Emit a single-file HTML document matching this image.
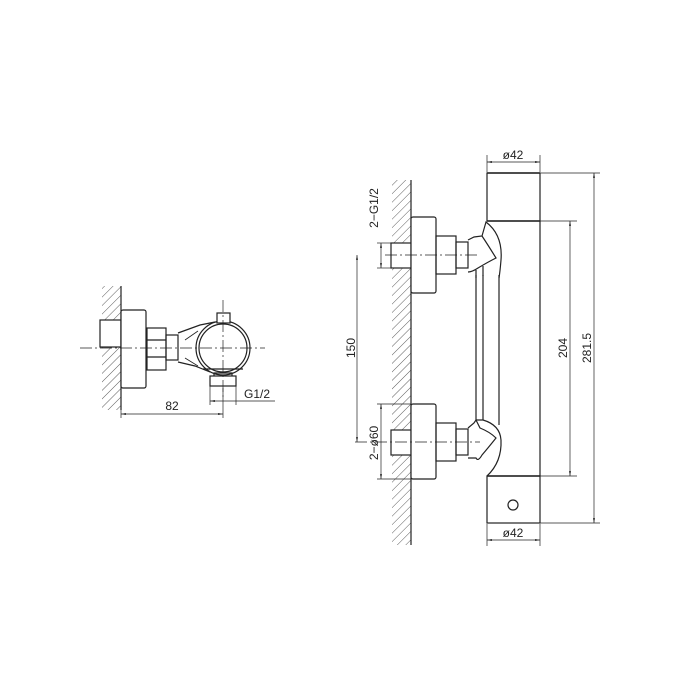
<!DOCTYPE html>
<html><head><style>html,body{margin:0;padding:0;background:#fff}svg{display:block}</style></head>
<body>
<svg width="700" height="700" viewBox="0 0 700 700" xmlns="http://www.w3.org/2000/svg" font-family="Liberation Sans, sans-serif">
<defs>
<pattern id="h" width="6" height="6" patternUnits="userSpaceOnUse" patternTransform="rotate(45)">
<line x1="0" y1="0" x2="0" y2="6" stroke="#333" stroke-width="0.8"/>
</pattern>
<marker id="a" viewBox="0 0 10 10" refX="10" refY="5" markerWidth="7" markerHeight="7" orient="auto-start-reverse"><path d="M0,3 L10,5 L0,7 z" fill="#222"/></marker>
</defs>
<g fill="none" stroke="#222" stroke-width="1.2">
<!-- LEFT VIEW -->
<rect x="102" y="286" width="19" height="124" fill="url(#h)" stroke="none"/>
<rect x="100" y="320" width="21" height="27" fill="#fff"/>
<line x1="121" y1="286" x2="121" y2="410"/>
<rect x="121" y="310" width="25" height="78" rx="2" fill="#fff"/>
<rect x="147" y="328" width="19" height="42"/>
<line x1="147" y1="340" x2="166" y2="340"/><line x1="147" y1="357" x2="166" y2="357"/>
<rect x="166" y="335" width="12" height="25"/>
<path d="M178,333 L200,325 L215,322 M178,362 L195,366 L210,372"/>
<path d="M185,340 L198,331 M185,358 L198,366" stroke-width="0.8"/>
<circle cx="223" cy="348" r="27" fill="#fff"/>
<circle cx="223" cy="348" r="24"/>
<rect x="217" y="313" width="13" height="10" fill="#fff"/>
<line x1="203" y1="369" x2="243" y2="369"/>
<rect x="210" y="376" width="26" height="10"/>
<path d="M214,376 L214,373 L232,373 L232,376"/>
<g stroke-width="0.7" stroke-dasharray="12,3,2,3">
<line x1="80" y1="348" x2="265" y2="348"/>
<line x1="223" y1="300" x2="223" y2="400"/>
</g>
<g stroke-width="0.7">
<line x1="121" y1="390" x2="121" y2="418"/>
<line x1="223" y1="388" x2="223" y2="418"/>
<line x1="121" y1="414" x2="223" y2="414" marker-start="url(#a)" marker-end="url(#a)"/>
<line x1="210" y1="386" x2="210" y2="405"/>
<line x1="236" y1="386" x2="236" y2="405"/>
<line x1="210" y1="401" x2="275" y2="401" marker-start="url(#a)"/>
</g>
<!-- RIGHT VIEW -->
<rect x="392" y="180" width="19" height="365" fill="url(#h)" stroke="none"/>
<line x1="411" y1="180" x2="411" y2="545"/>
<rect x="391" y="243" width="20" height="25" fill="#fff"/>
<rect x="391" y="430" width="20" height="25" fill="#fff"/>
<rect x="411" y="217" width="25" height="76" rx="2" fill="#fff"/>
<rect x="411" y="404" width="25" height="75" rx="2" fill="#fff"/>
<rect x="436" y="236" width="20" height="38"/>
<rect x="436" y="423" width="20" height="38"/>
<rect x="456" y="242" width="12" height="26"/>
<rect x="456" y="429" width="12" height="26"/>
<path d="M468,240 L474,237 L482,236 L486,222 Q503,235 501,260 Q500,272 499,278"/>
<path d="M482,236 Q488,245 496,258 Q488,262 478,268 Q472,272 468,272"/>
<path d="M476,270 L476,278 M483,266 L483,276"/>
<path d="M468,428 L474,423 L476,420 L483,420 Q500,425 501,440 Q502,462 487,476"/>
<path d="M476,420 L480,428 Q490,432 496,438 Q488,448 482,455 Q478,462 476,458 L468,458"/>
<rect x="487" y="173" width="53" height="48"/>
<rect x="487" y="476" width="53" height="47"/>
<line x1="540" y1="221" x2="540" y2="476"/>
<line x1="499" y1="275" x2="499" y2="425"/>
<line x1="476" y1="275" x2="476" y2="420"/>
<line x1="483" y1="275" x2="483" y2="420"/>
<line x1="487" y1="221" x2="540" y2="221" stroke-width="1.6"/>
<line x1="487" y1="476" x2="540" y2="476" stroke-width="1.4"/>
<line x1="487" y1="173" x2="540" y2="173" stroke-width="1.6"/>
<circle cx="513" cy="505" r="5"/>
<g stroke-width="0.7" stroke-dasharray="12,3,2,3">
<line x1="385" y1="255" x2="480" y2="255"/>
<line x1="355" y1="442" x2="480" y2="442"/>
</g>
<g stroke-width="0.7">
<line x1="487" y1="172" x2="487" y2="155"/><line x1="540" y1="172" x2="540" y2="155"/>
<line x1="487" y1="162" x2="540" y2="162" marker-start="url(#a)" marker-end="url(#a)"/>
<line x1="487" y1="524" x2="487" y2="546"/><line x1="540" y1="524" x2="540" y2="546"/>
<line x1="487" y1="540" x2="540" y2="540" marker-start="url(#a)" marker-end="url(#a)"/>
<line x1="540" y1="221" x2="577" y2="221"/><line x1="540" y1="476" x2="577" y2="476"/>
<line x1="570" y1="221" x2="570" y2="476" marker-start="url(#a)" marker-end="url(#a)"/>
<line x1="540" y1="173" x2="600" y2="173"/><line x1="540" y1="523" x2="600" y2="523"/>
<line x1="594" y1="173" x2="594" y2="523" marker-start="url(#a)" marker-end="url(#a)"/>
<line x1="357" y1="255" x2="357" y2="442" marker-start="url(#a)" marker-end="url(#a)"/>
<line x1="377" y1="243" x2="391" y2="243"/><line x1="377" y1="268" x2="391" y2="268"/>
<line x1="381" y1="243" x2="381" y2="268" marker-start="url(#a)" marker-end="url(#a)"/>
<line x1="377" y1="404" x2="411" y2="404"/><line x1="377" y1="479" x2="411" y2="479"/>
<line x1="381" y1="404" x2="381" y2="479" marker-start="url(#a)" marker-end="url(#a)"/>
</g>
</g>
<g fill="#222" font-size="12">
<text x="172" y="410" text-anchor="middle">82</text>
<text x="244" y="398">G1/2</text>
<text x="513" y="159" text-anchor="middle">ø42</text>
<text x="513" y="537" text-anchor="middle">ø42</text>
<text transform="translate(567,348) rotate(-90)" text-anchor="middle">204</text>
<text transform="translate(591,348) rotate(-90)" text-anchor="middle">281.5</text>
<text transform="translate(355,348) rotate(-90)" text-anchor="middle">150</text>
<text transform="translate(378,208) rotate(-90)" text-anchor="middle">2−G1/2</text>
<text transform="translate(378,443) rotate(-90)" text-anchor="middle">2−ø60</text>
</g>
</svg>
</body></html>
